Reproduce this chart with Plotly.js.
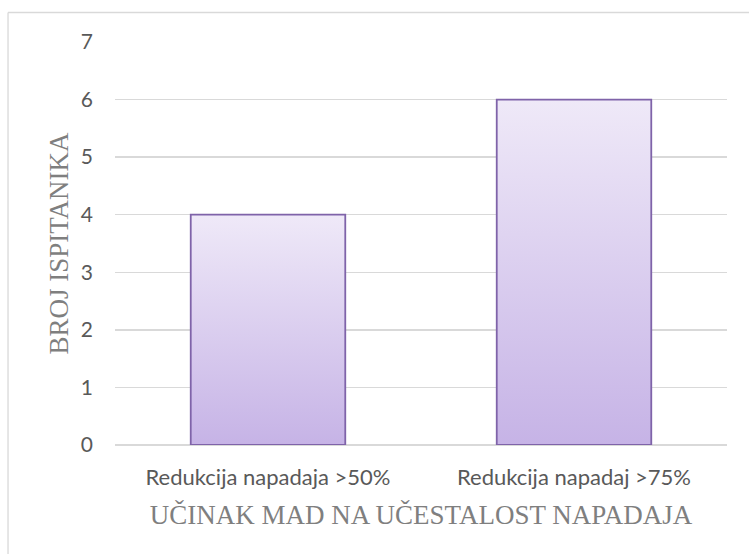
<!DOCTYPE html>
<html>
<head>
<meta charset="utf-8">
<script src="https://cdn.plot.ly/plotly-3.0.1.min.js"></script>
<style>
html,body{margin:0;padding:0;background:#fff;}
#chart{width:749px;height:554px;}
</style>
</head>
<body>
<div id="chart"></div>
<script>
const categories = ["Redukcija napadaja >50%", "Redukcija napadaj >75%"];
const values = [4, 6];
const yTicks = [0, 1, 2, 3, 4, 5, 6, 7];
const xTitle = "UČINAK MAD NA UČESTALOST NAPADAJA";
const yTitle = "BROJ ISPITANIKA";

const trace = {
  type: "bar",
  x: categories,
  y: values,
  marker: {
    color: "#dacdee",
    line: { color: "#7f63a9", width: 1.8 }
  },
  hoverinfo: "none"
};

const layout = {
  width: 749,
  height: 554,
  margin: { l: 115, r: 22, t: 42, b: 109 },
  paper_bgcolor: "#ffffff",
  plot_bgcolor: "#ffffff",
  bargap: 0.495,
  showlegend: false,
  font: { family: "Lato, 'Open Sans', sans-serif", color: "#595959" },
  xaxis: {
    type: "category",
    showgrid: false,
    showline: false,
    zeroline: false,
    ticks: "",
    ticklabelstandoff: 17,
    tickfont: { size: 22, color: "#595959", family: "Lato, sans-serif" },
    title: {
      text: xTitle,
      font: { family: "'Liberation Serif', 'DejaVu Serif', serif", size: 27, color: "#7f7f7f" },
      standoff: 16
    }
  },
  yaxis: {
    range: [0, 7],
    tickvals: yTicks,
    showgrid: true,
    gridcolor: "#d9d9d9",
    gridwidth: 1.3,
    zeroline: true,
    zerolinecolor: "#d9d9d9",
    zerolinewidth: 1.3,
    showline: false,
    ticks: "",
    ticklabelstandoff: 21,
    tickfont: { size: 21, color: "#595959", family: "Lato, sans-serif" }
  },
  annotations: [{
    text: yTitle,
    xref: "paper", yref: "paper",
    x: -0.0931, y: 0.5,
    xanchor: "center", yanchor: "middle",
    textangle: -90,
    showarrow: false,
    font: { family: "'Liberation Serif', 'DejaVu Serif', serif", size: 27, color: "#7f7f7f" }
  }],
  shapes: [
    {
      type: "line", xref: "paper", yref: "paper",
      x0: -0.1748, x1: -0.1748, y0: -0.3, y1: 1.0732,
      line: { color: "#d9d9d9", width: 1.3 }, layer: "below"
    },
    {
      type: "line", xref: "paper", yref: "paper",
      x0: -0.1748, x1: 1.1, y0: 1.0732, y1: 1.0732,
      line: { color: "#d9d9d9", width: 1.3 }, layer: "below"
    }
  ]
};

Plotly.newPlot("chart", [trace], layout, { displayModeBar: false, staticPlot: true }).then(function (gd) {
  const svg = gd.querySelector("svg.main-svg");
  const ns = "http://www.w3.org/2000/svg";
  let defs = svg.querySelector("defs");
  if (!defs) { defs = document.createElementNS(ns, "defs"); svg.insertBefore(defs, svg.firstChild); }
  const grad = document.createElementNS(ns, "linearGradient");
  grad.setAttribute("id", "barGrad");
  grad.setAttribute("x1", "0"); grad.setAttribute("y1", "0");
  grad.setAttribute("x2", "0"); grad.setAttribute("y2", "1");
  const s1 = document.createElementNS(ns, "stop");
  s1.setAttribute("offset", "0"); s1.setAttribute("stop-color", "#efe9f8");
  const s2 = document.createElementNS(ns, "stop");
  s2.setAttribute("offset", "1"); s2.setAttribute("stop-color", "#c6b3e6");
  grad.appendChild(s1); grad.appendChild(s2);
  defs.appendChild(grad);
  gd.querySelectorAll("g.trace.bars g.point path").forEach(function (p) {
    p.style.fill = "url(#barGrad)";
  });
});
</script>
</body>
</html>
